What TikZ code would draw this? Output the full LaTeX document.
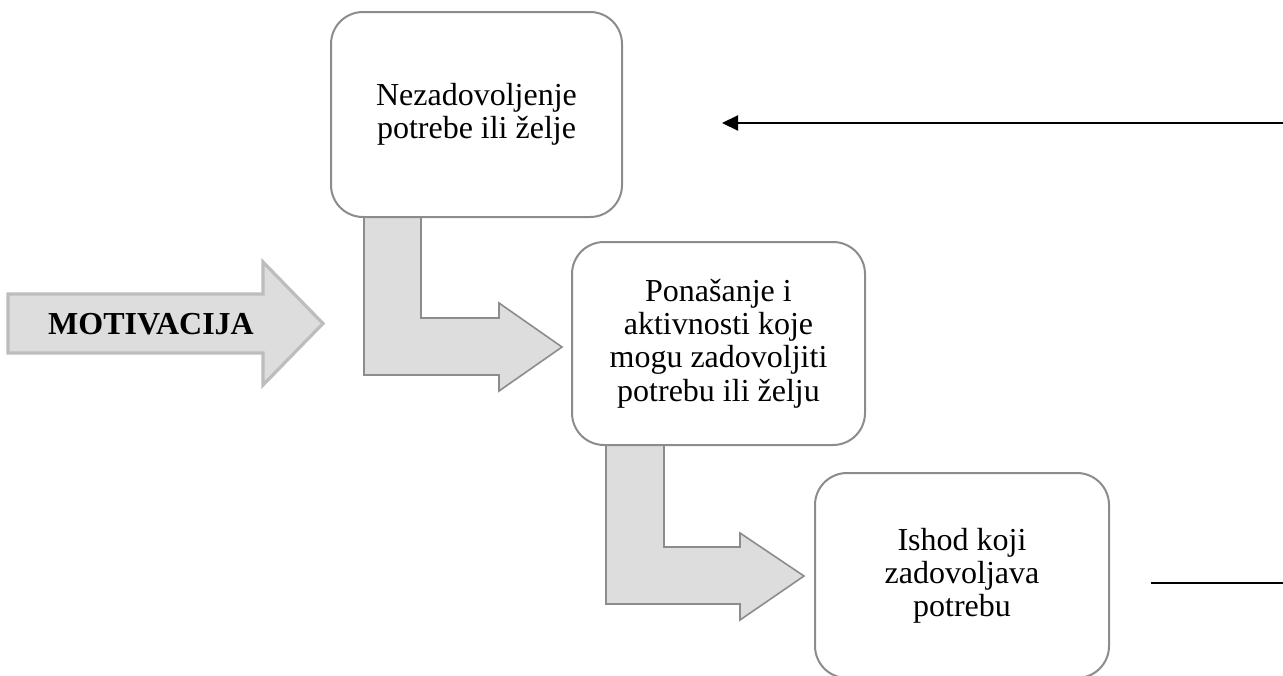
\documentclass[tikz,border=0pt]{standalone}
\usepackage{fontspec}
\setmainfont{Liberation Serif}
\usetikzlibrary{arrows.meta}
\definecolor{boxline}{HTML}{8C8C8C}
\definecolor{arrowfill}{HTML}{DDDDDD}
\definecolor{motline}{HTML}{BDBDBD}
\tikzset{
  stagebox/.style={draw=boxline, line width=1pt, fill=white, rounded corners=16pt,
    align=center, inner sep=0pt, font=\fontsize{16}{16.6}\selectfont},
  bentarrow/.style={draw=boxline, line width=0.8pt, fill=arrowfill, line join=miter},
  motarrow/.style={draw=motline, line width=1.6pt, fill=arrowfill, line join=miter},
  feedback/.style={draw=black, line width=1.1pt, -{Triangle[length=8pt,width=7.5pt]}},
  plainline/.style={draw=black, line width=0.7pt},
}
\begin{document}
\begin{tikzpicture}[x=0.5pt,y=-0.5pt]
\useasboundingbox (0,0) rectangle (1283,675);
% big motivation arrow
\draw[motarrow] (8,294) -- (263,294) -- (263,262) -- (323,323.5) -- (263,385) -- (263,353) -- (8,353) -- cycle;
\node[font=\fontsize{16}{16.6}\selectfont\bfseries] (mot) at (151,324) {MOTIVACIJA};
% bent arrows
\draw[bentarrow] (364,216) -- (364,375) -- (499,375) -- (499,391) -- (562,347) -- (499,303) -- (499,318) -- (421,318) -- (421,216) -- cycle;
\draw[bentarrow] (606,444) -- (606,604) -- (740,604) -- (740,620) -- (804,576) -- (740,533) -- (740,547) -- (664,547) -- (664,444) -- cycle;
% stage boxes
\node[stagebox, minimum width=145.5pt, minimum height=102.5pt] (b1) at (476.5,114.5)
  {Nezadovoljenje\\potrebe ili želje};
\node[stagebox, minimum width=146.5pt, minimum height=101.5pt] (b2) at (718.5,343.5)
  {Ponašanje i\\aktivnosti koje\\mogu zadovoljiti\\potrebu ili želju};
\node[stagebox, minimum width=147pt, minimum height=102.5pt] (b3) at (962,575.5)
  {Ishod koji\\zadovoljava\\potrebu};
% feedback lines
\coordinate (fbstart) at (1283,123);
\coordinate (fbend) at (722,123);
\draw[feedback] (fbstart) -- (fbend);
\coordinate (lnstart) at (1151,583);
\coordinate (lnend) at (1283,583);
\draw[plainline] (lnstart) -- (lnend);
\end{tikzpicture}
\end{document}
